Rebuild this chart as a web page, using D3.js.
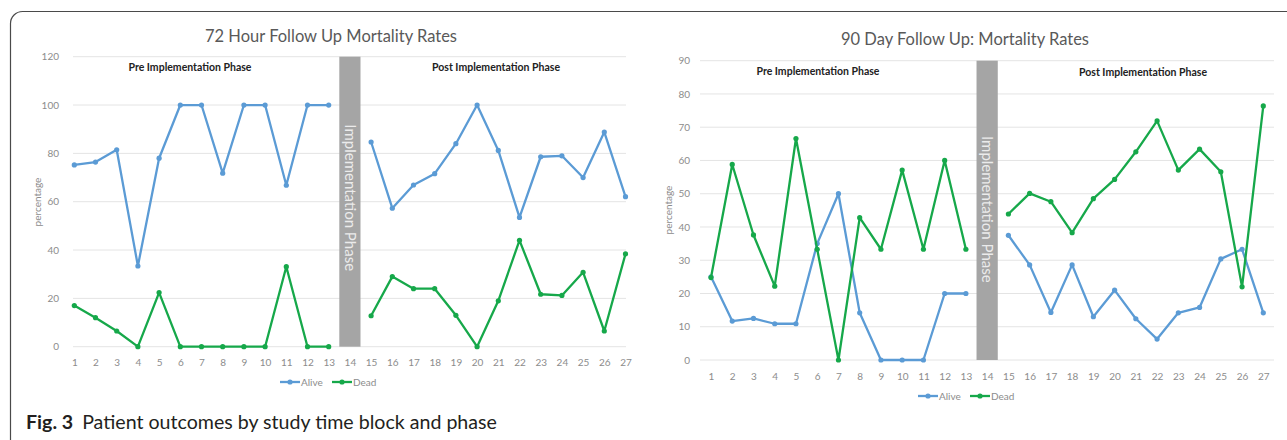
<!DOCTYPE html>
<html><head><meta charset="utf-8">
<script src="https://cdn.jsdelivr.net/npm/d3@7/dist/d3.min.js"></script>
<style>
html,body{margin:0;padding:0;background:#fff;}
svg{display:block;font-family:Lato,"Open Sans",sans-serif;}
</style></head>
<body>
<svg id="c" width="1287" height="440"></svg>
<script>
// ---- data ----
const categories = d3.range(1, 28);
const gapCategory = 14;
const alive72 = [75.2, 76.4, 81.5, 33.4, 78, 100, 100, 71.8, 100, 100, 66.8, 100, 100, null,
  84.7, 57.3, 66.9, 71.6, 84, 100, 81.2, 53.5, 78.6, 79, 70, 88.8, 62.1];
const dead72 = [17, 12, 6.5, 0, 22.4, 0, 0, 0, 0, 0, 33.1, 0, 0, null,
  12.8, 29, 24, 24, 13, 0, 19, 44, 21.7, 21.2, 30.8, 6.5, 38.4];
const alive90 = [25, 11.7, 12.5, 10.9, 10.9, 35, 50, 14.2, 0, 0, 0, 20, 20, null,
  37.5, 28.6, 14.3, 28.6, 13, 21, 12.4, 6.3, 14.2, 15.8, 30.4, 33.3, 14.2];
const dead90 = [24.8, 58.8, 37.6, 22.2, 66.6, 33.3, 0, 42.8, 33.3, 57.1, 33.3, 60, 33.3, null,
  43.9, 50.1, 47.6, 38.3, 48.5, 54.3, 62.6, 71.9, 57.1, 63.4, 56.6, 22, 76.4];
const yTicks72 = [0, 20, 40, 60, 80, 100, 120];
const yTicks90 = [0, 10, 20, 30, 40, 50, 60, 70, 80, 90];
const seriesNames = ["Alive", "Dead"];
const colors = {Alive: "#5b9bd5", Dead: "#16a84a"};

const svg = d3.select("#c");

// frame
svg.append("rect").attr("x", 10.5).attr("y", 11.5).attr("width", 1300).attr("height", 460)
  .attr("rx", 12).attr("fill", "none").attr("stroke", "#4a4a4a").attr("stroke-width", 1.2);

function drawChart(cfg) {
  const g = svg.append("g");
  const x = d3.scalePoint().domain(categories).range([cfg.x0, cfg.x1]);
  const step = x.step();
  const y = d3.scaleLinear().domain([0, cfg.yMax]).range([cfg.yBottom, cfg.yTop]);

  // gridlines
  g.selectAll("line.grid").data(cfg.ticks).join("line")
    .attr("x1", cfg.gx0).attr("x2", cfg.gx1)
    .attr("y1", d => y(d)).attr("y2", d => y(d))
    .attr("stroke", "#e4e4e4").attr("stroke-width", 1);

  // y axis labels
  const ya = d3.axisLeft(y).tickValues(cfg.ticks).tickSize(0).tickPadding(0);
  const yg = g.append("g").attr("transform", `translate(${cfg.yLabelX},0)`).call(ya);
  yg.select(".domain").remove();
  yg.selectAll("text").attr("fill", "#8c8c8c").style("font-size", "10px").style("font-family", "Lato");

  // x axis labels
  const xa = d3.axisBottom(x).tickSize(0).tickPadding(0);
  const xg = g.append("g").attr("transform", `translate(0,${cfg.xLabelY})`).call(xa);
  xg.select(".domain").remove();
  xg.selectAll("text").attr("fill", "#8c8c8c").style("font-size", "10px").style("font-family", "Lato")
    .attr("dy", "0.35em").attr("y", 0);

  // implementation bar
  const bx = x(gapCategory) - step / 2;
  g.append("rect").attr("x", bx).attr("width", step)
    .attr("y", y(cfg.yMax)).attr("height", y(0) - y(cfg.yMax))
    .attr("fill", "#a5a5a5");
  const cy = (y(cfg.yMax) + y(0)) / 2 + cfg.barTextShift;
  g.append("text").attr("transform", `translate(${x(gapCategory) - 5},${cy}) rotate(90)`)
    .attr("text-anchor", "middle").attr("fill", "#ebebeb")
    .style("font-size", "15px").style("font-family", "Lato")
    .text("Implementation Phase");

  // title
  g.append("text").attr("x", cfg.titleX).attr("y", cfg.titleY).attr("text-anchor", "middle")
    .attr("dy", "0.35em").attr("fill", "#595959").style("font-size", "16.5px")
    .text(cfg.title);

  // phase labels
  g.append("text").attr("x", cfg.preX).attr("y", cfg.preY).attr("text-anchor", "middle")
    .attr("dy", "0.35em").attr("fill", "#222").style("font-size", "10.5px").style("font-weight", "bold")
    .text("Pre Implementation Phase");
  g.append("text").attr("x", cfg.postX).attr("y", cfg.postY).attr("text-anchor", "middle")
    .attr("dy", "0.35em").attr("fill", "#222").style("font-size", "10.5px").style("font-weight", "bold")
    .text("Post Implementation Phase");

  // y title
  g.append("text").attr("transform", `translate(${cfg.yTitleX},${cfg.yTitleY}) rotate(-90)`)
    .attr("text-anchor", "middle").attr("dy", "0.35em").attr("fill", "#8c8c8c")
    .style("font-size", "10px").text("percentage");

  // series
  const line = d3.line().defined(d => d.v !== null).x(d => x(d.c)).y(d => y(d.v));
  cfg.series.forEach((vals, si) => {
    const name = seriesNames[si];
    const pts = categories.map((c, i) => ({c, v: vals[i]}));
    g.append("path").datum(pts).attr("d", line).attr("fill", "none")
      .attr("stroke", colors[name]).attr("stroke-width", 2.3).attr("stroke-linejoin", "round");
    g.selectAll(null).data(pts.filter(d => d.v !== null)).join("circle")
      .attr("cx", d => x(d.c)).attr("cy", d => y(d.v)).attr("r", 2.6).attr("fill", colors[name]);
  });

  // legend
  const lg = g.append("g").attr("transform", `translate(${cfg.legX},${cfg.legY})`);
  let off = 0;
  seriesNames.forEach((name) => {
    const it = lg.append("g").attr("transform", `translate(${off},0)`);
    it.append("line").attr("x1", 0).attr("x2", 20).attr("y1", 0).attr("y2", 0)
      .attr("stroke", colors[name]).attr("stroke-width", 2.3);
    it.append("circle").attr("cx", 10).attr("cy", 0).attr("r", 2.6).attr("fill", colors[name]);
    it.append("text").attr("x", 21).attr("dy", "0.35em").attr("fill", "#8c8c8c")
      .style("font-size", "10px").text(name);
    off += 52;
  });
}

drawChart({
  title: "72 Hour Follow Up Mortality Rates", titleX: 331, titleY: 36,
  x0: 74.3, x1: 625.5, gx0: 73, gx1: 626,
  yMax: 120, yTop: 56.7, yBottom: 346.7, ticks: yTicks72,
  yLabelX: 59, xLabelY: 362,
  preX: 190, preY: 67, postX: 496, postY: 67,
  yTitleX: 37, yTitleY: 202,
  series: [alive72, dead72], barTextShift: -4,
  legX: 280, legY: 382
});

drawChart({
  title: "90 Day Follow Up: Mortality Rates", titleX: 965, titleY: 39,
  x0: 711, x1: 1263.3, gx0: 700, gx1: 1274,
  yMax: 90, yTop: 60.7, yBottom: 360, ticks: yTicks90,
  yLabelX: 690, xLabelY: 376,
  preX: 818, preY: 71, postX: 1143, postY: 72,
  yTitleX: 668, yTitleY: 210,
  series: [alive90, dead90], barTextShift: -1,
  legX: 918, legY: 396
});

// caption
const cap = svg.append("text").attr("x", 26).attr("y", 422).attr("dy", "0.35em")
  .attr("fill", "#231f20").style("font-size", "19.6px").style("font-family", "Lato, 'Open Sans', sans-serif");
cap.append("tspan").style("font-weight", "bold").text("Fig. 3");
cap.append("tspan").attr("dx", 9).text("Patient outcomes by study time block and phase");
</script>
</body></html>
